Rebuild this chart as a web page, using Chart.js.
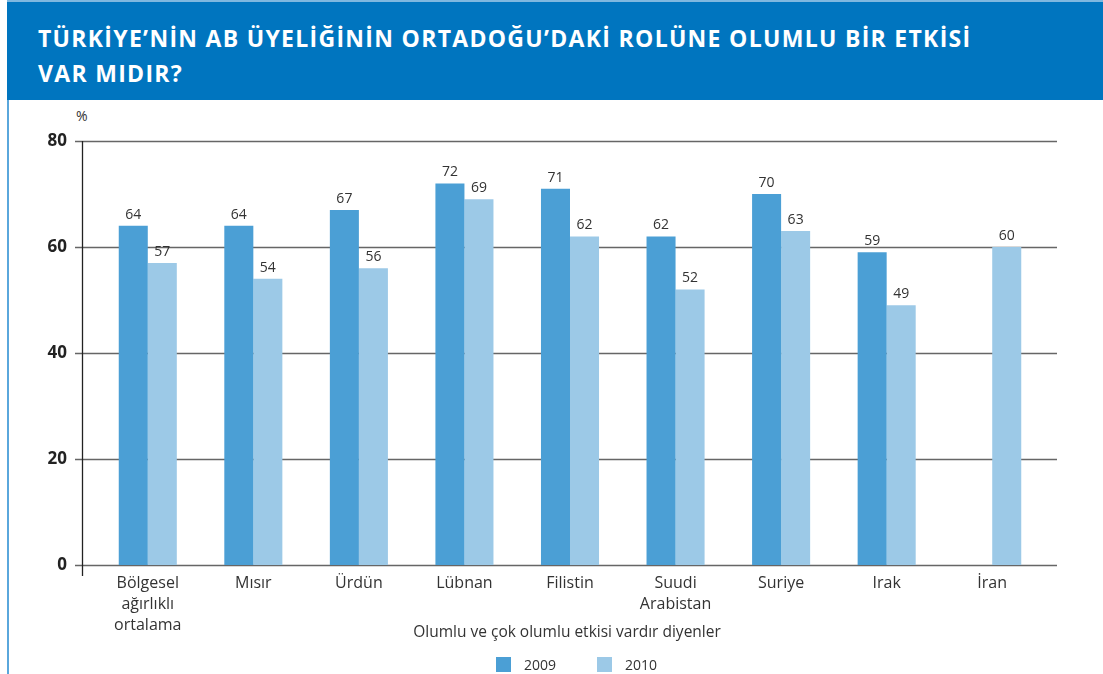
<!DOCTYPE html>
<html>
<head>
<meta charset="utf-8">
<script src="https://cdn.jsdelivr.net/npm/chart.js@4"></script>
<style>
  html, body { margin: 0; padding: 0; background: #fff; }
  body { width: 1103px; height: 674px; position: relative; overflow: hidden; font-family: "Open Sans", sans-serif; }
  #topline { position: absolute; left: 7px; top: 0; width: 1096px; height: 2px; background: #7fb8e0; }
  #leftline { position: absolute; left: 7px; top: 100px; width: 2px; height: 574px; background: #5aa7dc; }
  #title {
    position: absolute; left: 7px; top: 2px; width: 1096px; height: 98px;
    background: #0075bf; color: #fff; box-sizing: border-box; padding: 19px 0 0 31px;
    font-family: "Open Sans", sans-serif; font-weight: 700; font-size: 23px; line-height: 35px; letter-spacing: 1.3px;
  }
  #pct { position: absolute; left: 76px; top: 106px; font-size: 14px; color: #333; }
  #wrap { position: absolute; left: 0; top: 0; width: 1103px; height: 674px; }
</style>
</head>
<body>
<div id="topline"></div>
<div id="title">TÜRKİYE’NİN AB ÜYELİĞİNİN ORTADOĞU’DAKİ ROLÜNE OLUMLU BİR ETKİSİ<br>VAR MIDIR?</div>
<div id="leftline"></div>
<div id="pct">%</div>
<div id="wrap"><canvas id="chart" width="1103" height="674"></canvas></div>
<script>
const CATEGORIES = [
  ["Bölgesel", "ağırlıklı", "ortalama"], "Mısır", "Ürdün", "Lübnan", "Filistin",
  ["Suudi", "Arabistan"], "Suriye", "Irak", "İran",
];
const YEARS = ["2009", "2010"];
const VALUES_2009 = [64, 64, 67, 72, 71, 62, 70, 59, null];
const VALUES_2010 = [57, 54, 56, 69, 62, 52, 63, 49, 60];
const Y_TICKS = [0, 20, 40, 60, 80];
const AXIS_TITLE = "Olumlu ve çok olumlu etkisi vardır diyenler";
const COLORS = ["#4b9fd5", "#9cc9e7"];

const FONT = "'Open Sans', sans-serif";

// gridlines, axis line, value labels, axis title and legend
const decor = {
  id: "decor",
  beforeDatasetsDraw(chart) {
    const { ctx, scales: { y } } = chart;
    ctx.save();
    ctx.strokeStyle = "#666";
    ctx.lineWidth = 1.3;
    Y_TICKS.forEach(v => {
      const py = Math.round(y.getPixelForValue(v)) + 0.5;
      ctx.beginPath();
      ctx.moveTo(75, py);
      ctx.lineTo(1057, py);
      ctx.stroke();
    });
    ctx.strokeStyle = "#222";
    ctx.beginPath();
    ctx.moveTo(82.5, y.getPixelForValue(80));
    ctx.lineTo(82.5, y.getPixelForValue(0) + 11);
    ctx.stroke();
    ctx.restore();
  },
  afterDatasetsDraw(chart) {
    const { ctx } = chart;
    ctx.save();
    ctx.font = "14px " + FONT;
    ctx.fillStyle = "#333";
    ctx.textAlign = "center";
    ctx.textBaseline = "alphabetic";
    chart.data.datasets.forEach((ds, i) => {
      chart.getDatasetMeta(i).data.forEach((bar, j) => {
        if (ds.data[j] == null) return;
        ctx.fillText(String(ds.data[j]), bar.x, bar.y - 7);
      });
    });

    // x axis title
    ctx.font = "15.5px " + FONT;
    ctx.fillText(AXIS_TITLE, 567, 637);

    // legend
    const items = [[496, 524], [597, 625]];
    ctx.textAlign = "left";
    ctx.font = "14px " + FONT;
    chart.data.datasets.forEach((ds, i) => {
      ctx.fillStyle = ds.backgroundColor;
      ctx.fillRect(items[i][0], 657, 15, 15);
      ctx.fillStyle = "#333";
      ctx.fillText(ds.label, items[i][1], 670);
    });
    ctx.restore();
  },
};

new Chart(document.getElementById("chart"), {
  type: "bar",
  data: {
    labels: CATEGORIES,
    datasets: [
      { label: YEARS[0], data: VALUES_2009, backgroundColor: COLORS[0] },
      { label: YEARS[1], data: VALUES_2010, backgroundColor: COLORS[1] },
    ],
  },
  options: {
    responsive: false,
    animation: false,
    layout: { padding: { top: 141, right: 58, left: 35, bottom: 0 } },
    datasets: { bar: { categoryPercentage: 0.55, barPercentage: 1 } },
    plugins: { legend: { display: false }, tooltip: { enabled: false } },
    scales: {
      x: {
        grid: { display: false },
        border: { display: false },
        afterFit: s => { s.height = 109; },
        ticks: {
          padding: 0,
          color: "#333",
          font: { family: FONT, size: 16, lineHeight: 1.3 },
          maxRotation: 0,
          autoSkip: false,
        },
      },
      y: {
        min: 0,
        max: 80,
        grid: { display: false, drawTicks: false },
        border: { display: false },
        afterFit: s => { s.width = 60; },
        ticks: {
          stepSize: 20,
          padding: 28,
          color: "#222",
          font: { family: FONT, size: 17, weight: "bold" },
        },
      },
    },
  },
  plugins: [decor],
});
</script>
</body>
</html>
